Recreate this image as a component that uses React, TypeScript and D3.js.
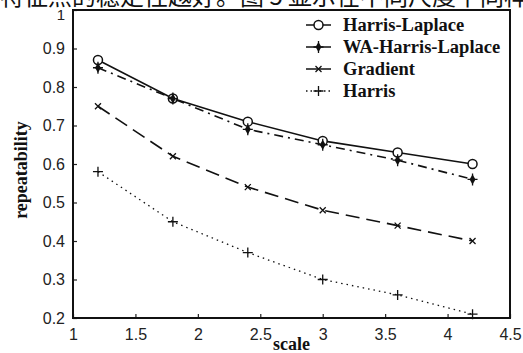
import React, { useEffect, useRef } from "react";
import * as d3 from "d3";

// data
const scales = [1.2, 1.8, 2.4, 3.0, 3.6, 4.2];
const harrisLaplace = [0.87, 0.77, 0.71, 0.66, 0.63, 0.6];
const waHarrisLaplace = [0.85, 0.77, 0.69, 0.65, 0.61, 0.56];
const gradient = [0.75, 0.62, 0.54, 0.48, 0.44, 0.4];
const harris = [0.58, 0.45, 0.37, 0.3, 0.26, 0.21];

const xTicks = [1, 1.5, 2, 2.5, 3, 3.5, 4, 4.5];
const yTicks = [0.2, 0.3, 0.4, 0.5, 0.6, 0.7, 0.8, 0.9, 1];

const seriesNames = ["Harris-Laplace", "WA-Harris-Laplace", "Gradient", "Harris"];
const headerText = "特征点的稳定性越好。图 5 显示在不同尺度下同样";

const W = 523;
const H = 353;
const margin = { left: 73, right: 13, top: 10, bottom: 35 };

export default function App() {
	const ref = useRef<SVGSVGElement>(null);

	useEffect(() => {
		const svg = d3.select(ref.current);
		svg.selectAll("*").remove();

		const x = d3.scaleLinear().domain([1, 4.5]).range([margin.left, W - margin.right]);
		const y = d3.scaleLinear().domain([0.2, 1]).range([H - margin.bottom, margin.top]);

		// cropped caption text from the page above the figure
		svg
			.append("text")
			.attr("x", 0)
			.attr("y", 5)
			.attr("font-family", "Noto Sans CJK SC")
			.attr("font-size", 24)
			.attr("fill", "#111")
			.text(headerText);

		// axes with inward ticks
		const xAxis = d3.axisBottom(x).tickValues(xTicks).tickSize(-4).tickPadding(8).tickFormat(d3.format("~g"));
		const yAxis = d3.axisLeft(y).tickValues(yTicks).tickSize(-4).tickPadding(8).tickFormat(d3.format("~g"));

		const gx = svg.append("g").attr("transform", `translate(0,${H - margin.bottom})`).call(xAxis);
		const gy = svg.append("g").attr("transform", `translate(${margin.left},0)`).call(yAxis);
		[gx, gy].forEach((g) => {
			g.select(".domain").remove();
			g.selectAll("line").attr("stroke", "#222").attr("stroke-width", 1.2);
			g.selectAll("text")
				.attr("font-family", "Liberation Sans, Arial, sans-serif")
				.attr("font-size", 16)
				.attr("fill", "#222");
		});
		gx.selectAll("text").attr("dy", "0.85em");
		// top label "1" sits just under the cropped caption
		gy.select(".tick:last-of-type text").attr("dy", "0.6em").attr("font-size", 15);

		// frame
		svg
			.append("rect")
			.attr("x", margin.left)
			.attr("y", margin.top)
			.attr("width", W - margin.left - margin.right)
			.attr("height", H - margin.top - margin.bottom)
			.attr("fill", "none")
			.attr("stroke", "#111")
			.attr("stroke-width", 2);

		const series = [
			{ name: seriesNames[0], values: harrisLaplace, dash: null, marker: "circle" },
			{ name: seriesNames[1], values: waHarrisLaplace, dash: "9,5,2,5", marker: "diamond" },
			{ name: seriesNames[2], values: gradient, dash: "14,7", marker: "x" },
			{ name: seriesNames[3], values: harris, dash: "1.5,4", marker: "plus" }
		];

		const line = d3
			.line<number>()
			.x((d, i) => x(scales[i]))
			.y((d) => y(d));

		const drawMarker = (g: any, kind: string, cx: number, cy: number) => {
			if (kind === "circle") {
				g.append("circle").attr("cx", cx).attr("cy", cy).attr("r", 4.5)
					.attr("fill", "white").attr("stroke", "#111").attr("stroke-width", 1.5);
			} else if (kind === "diamond") {
				const sym = d3.symbol().type(d3.symbolDiamond).size(30);
				g.append("path").attr("d", sym()).attr("transform", `translate(${cx},${cy})`).attr("fill", "#111");
				g.append("path").attr("d", `M${cx},${cy - 6}V${cy + 6}M${cx - 5},${cy}H${cx + 5}`)
					.attr("stroke", "#111").attr("stroke-width", 1.3);
			} else if (kind === "x") {
				g.append("path").attr("d", `M${cx - 3},${cy - 3}L${cx + 3},${cy + 3}M${cx - 3},${cy + 3}L${cx + 3},${cy - 3}`)
					.attr("stroke", "#111").attr("stroke-width", 1.3);
			} else {
				g.append("path").attr("d", `M${cx - 5},${cy}H${cx + 5}M${cx},${cy - 5}V${cy + 5}`)
					.attr("stroke", "#111").attr("stroke-width", 1.3);
			}
		};

		series.forEach((s) => {
			const g = svg.append("g");
			g.append("path")
				.datum(s.values)
				.attr("d", line)
				.attr("fill", "none")
				.attr("stroke", "#111")
				.attr("stroke-width", s.marker === "plus" ? 1.3 : 1.6)
				.attr("stroke-dasharray", s.dash);
			s.values.forEach((v, i) => drawMarker(g, s.marker, x(scales[i]), y(v)));
		});

		// legend
		const legend = svg.append("g");
		series.forEach((s, i) => {
			const ly = 25 + i * 22;
			legend.append("line")
				.attr("x1", 306).attr("x2", 331).attr("y1", ly).attr("y2", ly)
				.attr("stroke", "#111").attr("stroke-width", 1.5)
				.attr("stroke-dasharray", s.marker === "plus" ? "1.5,3" : null);
			drawMarker(legend, s.marker, 318.5, ly);
			legend.append("text")
				.attr("x", 343).attr("y", ly + 6)
				.attr("font-family", "Liberation Serif, Times New Roman, serif")
				.attr("font-weight", "bold")
				.attr("font-size", 18.5)
				.attr("fill", "#111")
				.text(s.name);
		});

		// axis titles
		svg.append("text")
			.attr("x", (margin.left + W - margin.right) / 2).attr("y", 350)
			.attr("text-anchor", "middle")
			.attr("font-family", "Liberation Serif, Times New Roman, serif")
			.attr("font-weight", "bold").attr("font-size", 18).attr("fill", "#111")
			.text("scale");
		svg.append("text")
			.attr("transform", `translate(27,${(margin.top + H - margin.bottom) / 2 + 6}) rotate(-90)`)
			.attr("text-anchor", "middle")
			.attr("font-family", "Liberation Serif, Times New Roman, serif")
			.attr("font-weight", "bold").attr("font-size", 18).attr("fill", "#111")
			.text("repeatability");
	}, []);

	return (
		<svg
			ref={ref}
			width={W}
			height={H}
			style={{ position: "absolute", left: 0, top: 0, background: "white" }}
		/>
	);
}
